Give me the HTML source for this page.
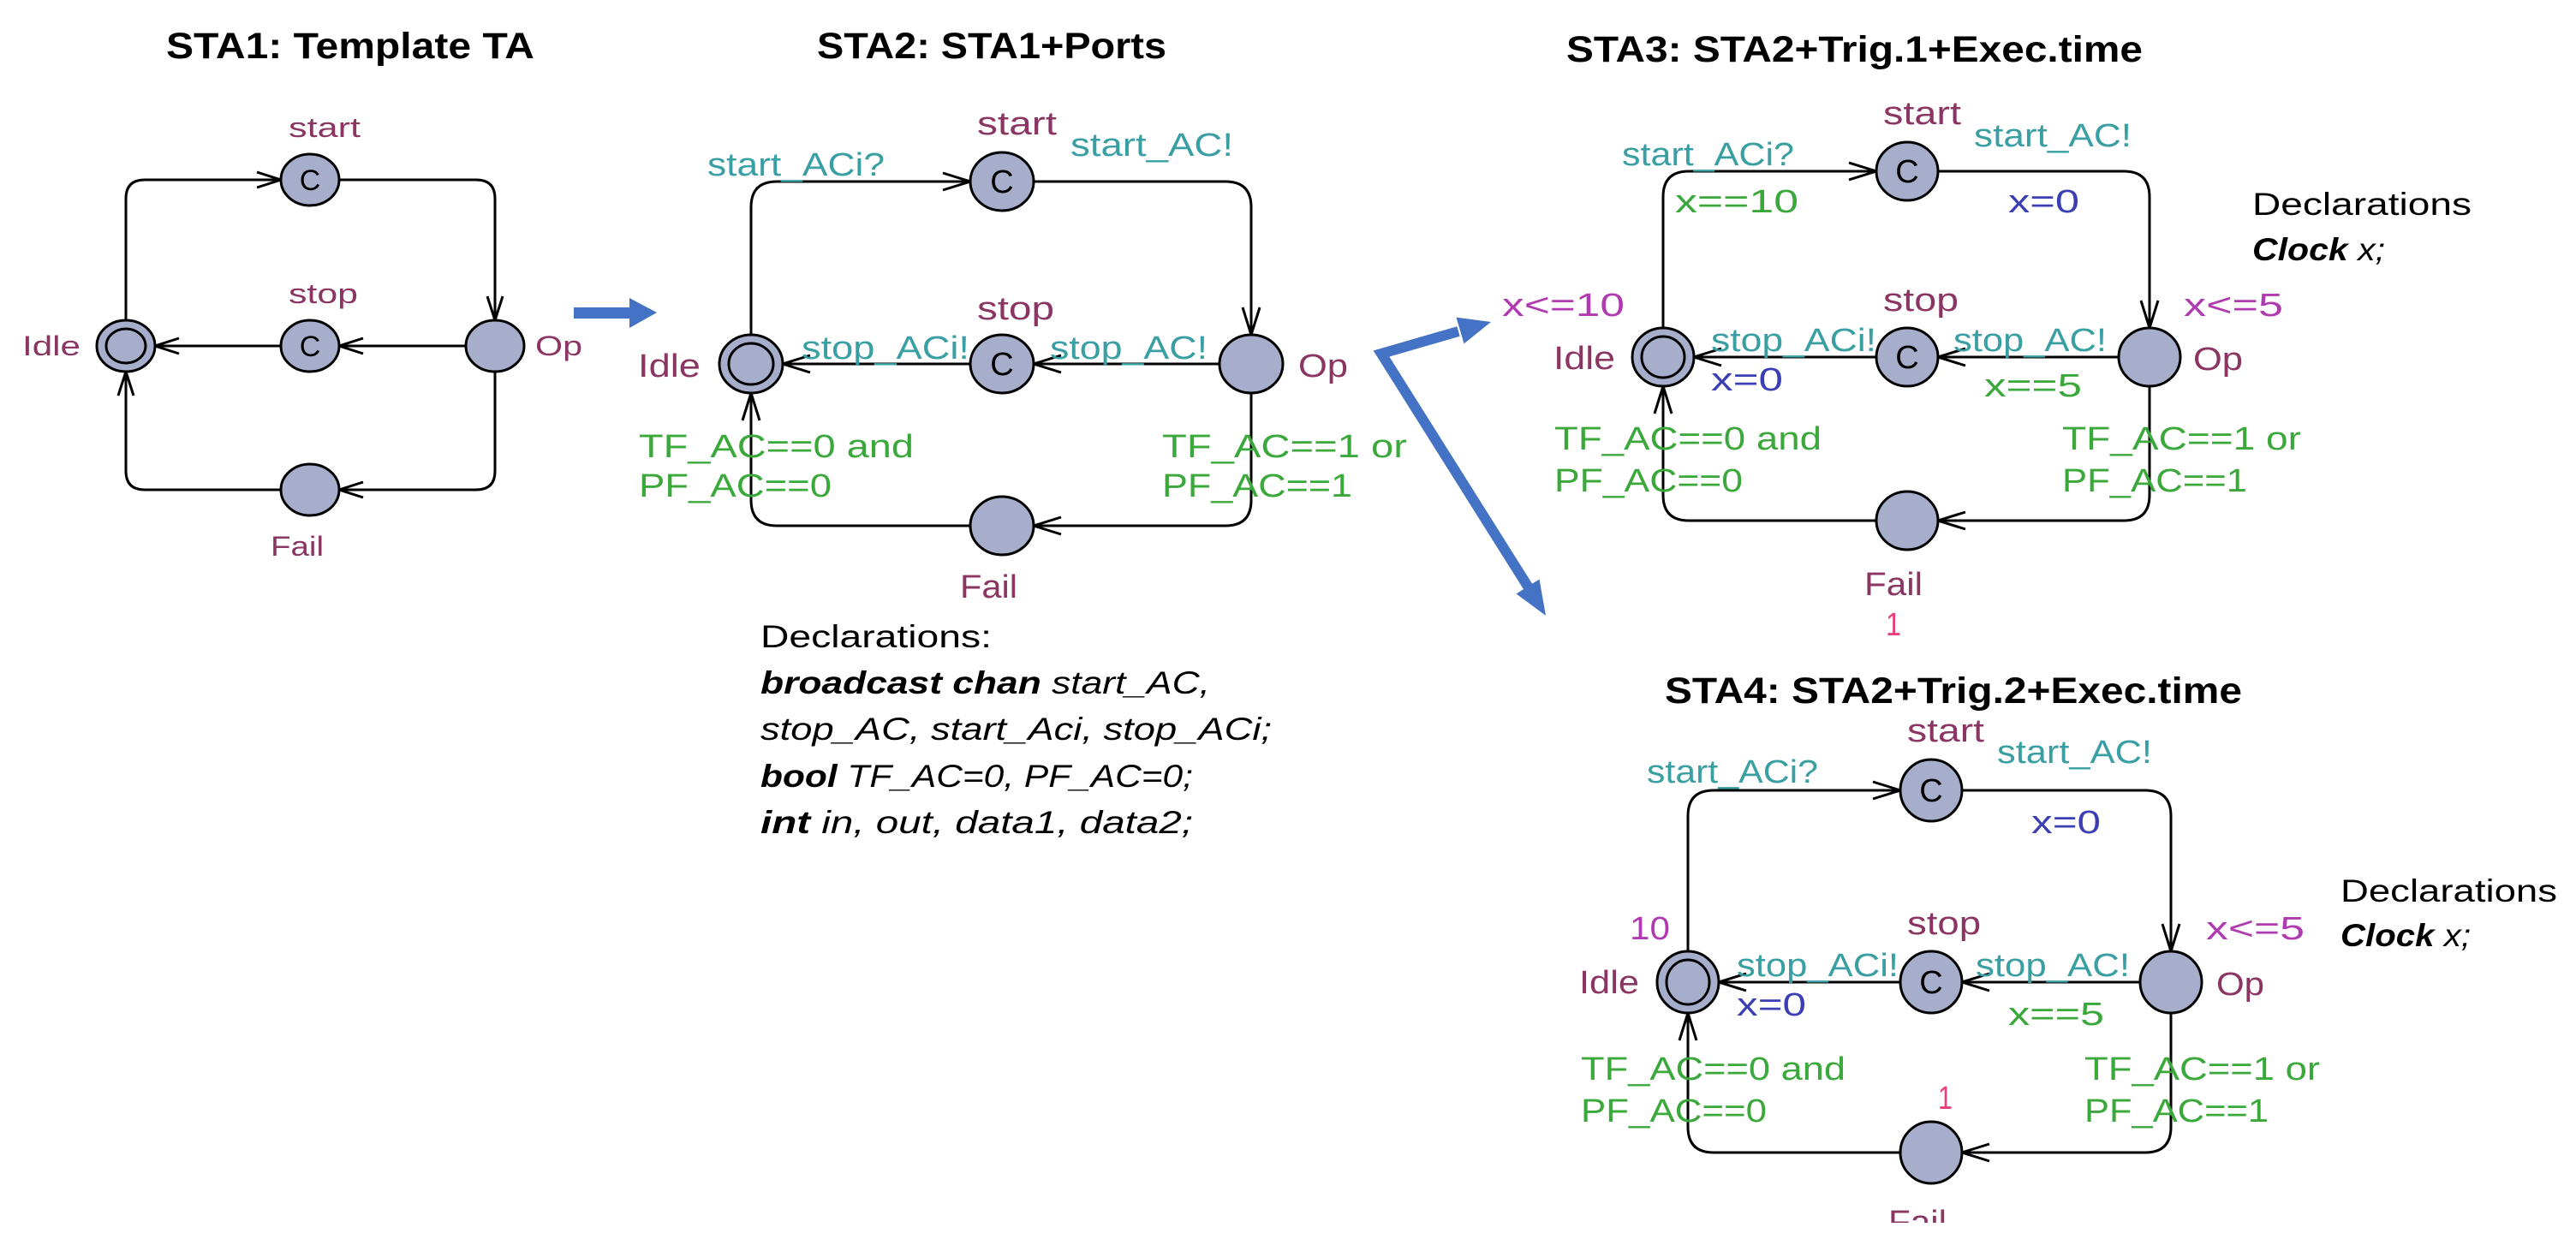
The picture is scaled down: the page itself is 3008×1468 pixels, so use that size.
<!DOCTYPE html>
<html><head><meta charset="utf-8"><style>
html,body{margin:0;padding:0;background:#fff;}
svg{display:block;}
text{font-family:"Liberation Sans",sans-serif;}
.n{fill:#8b3563;font-size:38px;}
.n1{fill:#8b3563;font-size:32px;}
.t{fill:#3a9fa3;font-size:38px;}
.g{fill:#3aa83a;font-size:38px;}
.b{fill:#3b3fb3;font-size:38px;}
.m{fill:#b03ab0;font-size:38px;}
.p{fill:#e8407a;font-size:38px;}
.k{fill:#000;font-size:37px;}
.ti{fill:#000;font-size:43px;font-weight:bold;}
.e{fill:none;stroke:#000;stroke-width:3;}
.nd{fill:#a6aecb;stroke:#000;stroke-width:3;}
.c{fill:#000;font-size:34px;text-anchor:middle;}
</style></head><body>
<svg width="3008" height="1468" viewBox="0 0 3008 1468" xmlns="http://www.w3.org/2000/svg">
<rect width="3008" height="1468" fill="#fff"/>

<!-- Titles -->
<text class="ti" x="194" y="68" textLength="430" lengthAdjust="spacingAndGlyphs">STA1: Template TA</text>
<text class="ti" x="954" y="68" textLength="408" lengthAdjust="spacingAndGlyphs">STA2: STA1+Ports</text>
<text class="ti" x="1829" y="72" textLength="673" lengthAdjust="spacingAndGlyphs">STA3: STA2+Trig.1+Exec.time</text>
<text class="ti" x="1944" y="821" textLength="674" lengthAdjust="spacingAndGlyphs">STA4: STA2+Trig.2+Exec.time</text>

<!-- ===== STA1 ===== -->
<g class="e">
<path d="M147,374 V232 Q147,210 169,210 H328"/><path d="M300,201 L328,210 L300,219"/>
<path d="M396,210 H556 Q578,210 578,232 V374"/><path d="M569,346 L578,374 L587,346"/>
<path d="M544,404 H396"/><path d="M424,395 L396,404 L424,413"/>
<path d="M328,404 H181"/><path d="M209,395 L181,404 L209,413"/>
<path d="M578,434 V550 Q578,572 556,572 H396"/><path d="M424,563 L396,572 L424,581"/>
<path d="M328,572 H169 Q147,572 147,550 V434"/><path d="M138,462 L147,434 L156,462"/>
</g>
<ellipse class="nd" cx="362" cy="210" rx="34" ry="30"/><text class="c" x="362" y="222">C</text>
<ellipse class="nd" cx="362" cy="404" rx="34" ry="30"/><text class="c" x="362" y="416">C</text>
<ellipse class="nd" cx="147" cy="404" rx="34" ry="30"/><ellipse class="nd" cx="147" cy="404" rx="23" ry="20"/>
<ellipse class="nd" cx="578" cy="404" rx="34" ry="30"/>
<ellipse class="nd" cx="362" cy="572" rx="34" ry="30"/>
<text class="n1" x="337" y="160" textLength="84" lengthAdjust="spacingAndGlyphs">start</text>
<text class="n1" x="337" y="354" textLength="81" lengthAdjust="spacingAndGlyphs">stop</text>
<text class="n1" x="26" y="415" textLength="68" lengthAdjust="spacingAndGlyphs">Idle</text>
<text class="n1" x="625" y="415" textLength="55" lengthAdjust="spacingAndGlyphs">Op</text>
<text class="n1" x="316" y="649" textLength="62" lengthAdjust="spacingAndGlyphs">Fail</text>

<!-- arrow STA1->STA2 -->
<polygon fill="#4472c4" points="670,359 735,359 735,348 767,365 735,383 735,372 670,372"/>

<!-- ===== STA2 ===== -->
<g class="e">
<path d="M877,391 V242 Q877,212 907,212 H1133"/><path d="M1101,202 L1133,212 L1101,222"/>
<path d="M1207,212 H1431 Q1461,212 1461,242 V391"/><path d="M1451,359 L1461,391 L1471,359"/>
<path d="M1424,425 H1207"/><path d="M1239,415 L1207,425 L1239,435"/>
<path d="M1133,425 H914"/><path d="M946,415 L914,425 L946,435"/>
<path d="M1461,459 V584 Q1461,614 1431,614 H1207"/><path d="M1239,604 L1207,614 L1239,624"/>
<path d="M1133,614 H907 Q877,614 877,584 V459"/><path d="M867,491 L877,459 L887,491"/>
</g>
<ellipse class="nd" cx="1170" cy="212" rx="37" ry="34"/><text class="c" x="1170" y="225" style="font-size:38px">C</text>
<ellipse class="nd" cx="1170" cy="425" rx="37" ry="34"/><text class="c" x="1170" y="438" style="font-size:38px">C</text>
<ellipse class="nd" cx="877" cy="425" rx="37" ry="34"/><ellipse class="nd" cx="877" cy="425" rx="26" ry="24"/>
<ellipse class="nd" cx="1461" cy="425" rx="37" ry="34"/>
<ellipse class="nd" cx="1170" cy="614" rx="37" ry="34"/>
<text class="n" x="1141" y="157" textLength="93" lengthAdjust="spacingAndGlyphs">start</text>
<text class="t" x="826" y="205" textLength="207" lengthAdjust="spacingAndGlyphs">start_ACi?</text>
<text class="t" x="1250" y="182" textLength="190" lengthAdjust="spacingAndGlyphs">start_AC!</text>
<text class="n" x="1141" y="373" textLength="90" lengthAdjust="spacingAndGlyphs">stop</text>
<text class="t" x="936" y="419" textLength="196" lengthAdjust="spacingAndGlyphs">stop_ACi!</text>
<text class="t" x="1226" y="419" textLength="184" lengthAdjust="spacingAndGlyphs">stop_AC!</text>
<text class="n" x="745" y="440" textLength="73" lengthAdjust="spacingAndGlyphs">Idle</text>
<text class="n" x="1516" y="440" textLength="58" lengthAdjust="spacingAndGlyphs">Op</text>
<text class="g" x="746" y="534" textLength="321" lengthAdjust="spacingAndGlyphs">TF_AC==0 and</text>
<text class="g" x="746" y="580" textLength="225" lengthAdjust="spacingAndGlyphs">PF_AC==0</text>
<text class="g" x="1357" y="534" textLength="286" lengthAdjust="spacingAndGlyphs">TF_AC==1 or</text>
<text class="g" x="1357" y="580" textLength="222" lengthAdjust="spacingAndGlyphs">PF_AC==1</text>
<text class="n" x="1121" y="698" textLength="67" lengthAdjust="spacingAndGlyphs">Fail</text>

<text class="k" x="888" y="756" textLength="270" lengthAdjust="spacingAndGlyphs">Declarations:</text>
<text class="k" x="888" y="810" textLength="525" lengthAdjust="spacingAndGlyphs"><tspan font-weight="bold" font-style="italic">broadcast chan</tspan><tspan font-style="italic"> start_AC,</tspan></text>
<text class="k" x="888" y="864" textLength="597" lengthAdjust="spacingAndGlyphs" font-style="italic">stop_AC, start_Aci, stop_ACi;</text>
<text class="k" x="888" y="919" textLength="505" lengthAdjust="spacingAndGlyphs"><tspan font-weight="bold" font-style="italic">bool</tspan><tspan font-style="italic"> TF_AC=0, PF_AC=0;</tspan></text>
<text class="k" x="888" y="973" textLength="505" lengthAdjust="spacingAndGlyphs"><tspan font-weight="bold" font-style="italic">int</tspan><tspan font-style="italic"> in, out, data1, data2;</tspan></text>

<!-- elbow arrow STA2 -> STA3/STA4 -->
<polyline points="1703,387 1613,413 1786,688" fill="none" stroke="#4472c4" stroke-width="12" stroke-linejoin="miter"/>
<polygon fill="#4472c4" points="1741,376 1709.5,401.4 1700.5,370.6"/>
<polygon fill="#4472c4" points="1805,719 1797.5,676.5 1770.5,693.5"/>

<!-- ===== STA3 ===== -->
<g class="e">
<path d="M1942,383 V230 Q1942,200 1972,200 H2191"/><path d="M2159,190 L2191,200 L2159,210"/>
<path d="M2263,200 H2480 Q2510,200 2510,230 V383"/><path d="M2500,351 L2510,383 L2520,351"/>
<path d="M2474,417 H2263"/><path d="M2295,407 L2263,417 L2295,427"/>
<path d="M2191,417 H1978"/><path d="M2010,407 L1978,417 L2010,427"/>
<path d="M2510,451 V578 Q2510,608 2480,608 H2263"/><path d="M2295,598 L2263,608 L2295,618"/>
<path d="M2191,608 H1972 Q1942,608 1942,578 V451"/><path d="M1932,483 L1942,451 L1952,483"/>
</g>
<ellipse class="nd" cx="2227" cy="200" rx="36" ry="34"/><text class="c" x="2227" y="213" style="font-size:38px">C</text>
<ellipse class="nd" cx="2227" cy="417" rx="36" ry="34"/><text class="c" x="2227" y="430" style="font-size:38px">C</text>
<ellipse class="nd" cx="1942" cy="417" rx="36" ry="34"/><ellipse class="nd" cx="1942" cy="417" rx="25" ry="24"/>
<ellipse class="nd" cx="2510" cy="417" rx="36" ry="34"/>
<ellipse class="nd" cx="2227" cy="608" rx="36" ry="34"/>
<text class="n" x="2199" y="145" textLength="91" lengthAdjust="spacingAndGlyphs">start</text>
<text class="t" x="2305" y="171" textLength="184" lengthAdjust="spacingAndGlyphs">start_AC!</text>
<text class="t" x="1894" y="193" textLength="201" lengthAdjust="spacingAndGlyphs">start_ACi?</text>
<text class="g" x="1956" y="248" textLength="144" lengthAdjust="spacingAndGlyphs">x==10</text>
<text class="b" x="2345" y="248" textLength="83" lengthAdjust="spacingAndGlyphs">x=0</text>
<text class="k" x="2630" y="251" textLength="256" lengthAdjust="spacingAndGlyphs">Declarations</text>
<text class="k" x="2630" y="304" textLength="155" lengthAdjust="spacingAndGlyphs"><tspan font-weight="bold" font-style="italic">Clock</tspan><tspan font-style="italic"> x;</tspan></text>
<text class="m" x="1754" y="369" textLength="143" lengthAdjust="spacingAndGlyphs">x&lt;=10</text>
<text class="n" x="2199" y="363" textLength="88" lengthAdjust="spacingAndGlyphs">stop</text>
<text class="m" x="2550" y="369" textLength="116" lengthAdjust="spacingAndGlyphs">x&lt;=5</text>
<text class="n" x="1814" y="431" textLength="72" lengthAdjust="spacingAndGlyphs">Idle</text>
<text class="t" x="1998" y="410" textLength="193" lengthAdjust="spacingAndGlyphs">stop_ACi!</text>
<text class="t" x="2281" y="410" textLength="179" lengthAdjust="spacingAndGlyphs">stop_AC!</text>
<text class="n" x="2561" y="432" textLength="58" lengthAdjust="spacingAndGlyphs">Op</text>
<text class="b" x="1998" y="456" textLength="84" lengthAdjust="spacingAndGlyphs">x=0</text>
<text class="g" x="2317" y="463" textLength="114" lengthAdjust="spacingAndGlyphs">x==5</text>
<text class="g" x="1815" y="525" textLength="312" lengthAdjust="spacingAndGlyphs">TF_AC==0 and</text>
<text class="g" x="1815" y="574" textLength="220" lengthAdjust="spacingAndGlyphs">PF_AC==0</text>
<text class="g" x="2408" y="525" textLength="279" lengthAdjust="spacingAndGlyphs">TF_AC==1 or</text>
<text class="g" x="2408" y="574" textLength="216" lengthAdjust="spacingAndGlyphs">PF_AC==1</text>
<text class="n" x="2177" y="695" textLength="68" lengthAdjust="spacingAndGlyphs">Fail</text>
<text class="p" x="2202" y="742" textLength="18" lengthAdjust="spacingAndGlyphs">1</text>

<!-- ===== STA4 ===== -->
<g class="e">
<path d="M1971,1111 V953 Q1971,923 2001,923 H2219"/><path d="M2187,913 L2219,923 L2187,933"/>
<path d="M2291,923 H2505 Q2535,923 2535,953 V1111"/><path d="M2525,1079 L2535,1111 L2545,1079"/>
<path d="M2499,1147 H2291"/><path d="M2323,1137 L2291,1147 L2323,1157"/>
<path d="M2219,1147 H2007"/><path d="M2039,1137 L2007,1147 L2039,1157"/>
<path d="M2535,1183 V1316 Q2535,1346 2505,1346 H2291"/><path d="M2323,1336 L2291,1346 L2323,1356"/>
<path d="M2219,1346 H2001 Q1971,1346 1971,1316 V1183"/><path d="M1961,1215 L1971,1183 L1981,1215"/>
</g>
<ellipse class="nd" cx="2255" cy="923" rx="36" ry="36"/><text class="c" x="2255" y="936" style="font-size:38px">C</text>
<ellipse class="nd" cx="2255" cy="1147" rx="36" ry="36"/><text class="c" x="2255" y="1160" style="font-size:38px">C</text>
<ellipse class="nd" cx="1971" cy="1147" rx="36" ry="36"/><ellipse class="nd" cx="1971" cy="1147" rx="25" ry="26"/>
<ellipse class="nd" cx="2535" cy="1147" rx="36" ry="36"/>
<ellipse class="nd" cx="2255" cy="1346" rx="36" ry="36"/>
<text class="n" x="2227" y="866" textLength="90" lengthAdjust="spacingAndGlyphs">start</text>
<text class="t" x="2332" y="891" textLength="181" lengthAdjust="spacingAndGlyphs">start_AC!</text>
<text class="t" x="1923" y="914" textLength="200" lengthAdjust="spacingAndGlyphs">start_ACi?</text>
<text class="b" x="2372" y="973" textLength="81" lengthAdjust="spacingAndGlyphs">x=0</text>
<text class="k" x="2733" y="1053" textLength="253" lengthAdjust="spacingAndGlyphs">Declarations</text>
<text class="k" x="2733" y="1105" textLength="152" lengthAdjust="spacingAndGlyphs"><tspan font-weight="bold" font-style="italic">Clock</tspan><tspan font-style="italic"> x;</tspan></text>
<text class="m" x="1903" y="1097" textLength="47" lengthAdjust="spacingAndGlyphs">10</text>
<text class="n" x="2227" y="1091" textLength="86" lengthAdjust="spacingAndGlyphs">stop</text>
<text class="m" x="2576" y="1097" textLength="115" lengthAdjust="spacingAndGlyphs">x&lt;=5</text>
<text class="n" x="1844" y="1160" textLength="70" lengthAdjust="spacingAndGlyphs">Idle</text>
<text class="t" x="2028" y="1140" textLength="189" lengthAdjust="spacingAndGlyphs">stop_ACi!</text>
<text class="t" x="2307" y="1140" textLength="180" lengthAdjust="spacingAndGlyphs">stop_AC!</text>
<text class="n" x="2588" y="1162" textLength="56" lengthAdjust="spacingAndGlyphs">Op</text>
<text class="b" x="2028" y="1186" textLength="81" lengthAdjust="spacingAndGlyphs">x=0</text>
<text class="g" x="2345" y="1197" textLength="112" lengthAdjust="spacingAndGlyphs">x==5</text>
<text class="g" x="1846" y="1261" textLength="309" lengthAdjust="spacingAndGlyphs">TF_AC==0 and</text>
<text class="g" x="1846" y="1310" textLength="217" lengthAdjust="spacingAndGlyphs">PF_AC==0</text>
<text class="p" x="2263" y="1295" textLength="17" lengthAdjust="spacingAndGlyphs">1</text>
<text class="g" x="2434" y="1261" textLength="275" lengthAdjust="spacingAndGlyphs">TF_AC==1 or</text>
<text class="g" x="2434" y="1310" textLength="215" lengthAdjust="spacingAndGlyphs">PF_AC==1</text>
<text class="n" x="2205" y="1440" textLength="68" lengthAdjust="spacingAndGlyphs">Fail</text>
<rect x="2180" y="1428" width="120" height="40" fill="#fff"/>
</svg>
</body></html>
